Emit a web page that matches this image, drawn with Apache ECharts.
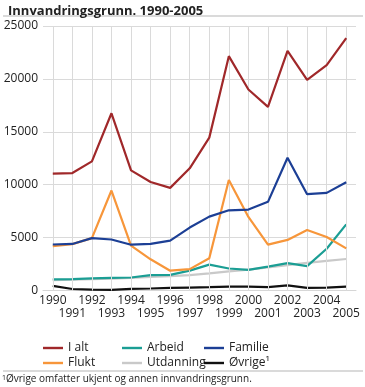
<!DOCTYPE html>
<html><head><meta charset="utf-8">
<script src="https://cdn.jsdelivr.net/npm/echarts@6/dist/echarts.min.js"></script>
<style>html,body{margin:0;padding:0;background:#fff}#c{width:365px;height:387px}</style>
</head><body><div id="c"></div>
<script>
var years = [1990,1991,1992,1993,1994,1995,1996,1997,1998,1999,2000,2001,2002,2003,2004,2005];
var iAlt      = [11050,11100,12200,16750,11350,10250,9700,11550,14450,22150,19000,17350,22650,19900,21300,23850];
var arbeid    = [1050,1080,1150,1200,1230,1450,1480,1880,2450,2080,1950,2250,2580,2300,3950,6250];
var familie   = [4350,4400,4950,4820,4330,4400,4720,5950,6980,7580,7650,8380,12550,9100,9230,10230];
var flukt     = [4180,4380,4950,9450,4250,2950,1870,2020,3050,10450,6950,4330,4780,5720,5050,3980];
var utdanning = [980,1020,1080,1130,1200,1280,1360,1450,1620,1800,1980,2180,2400,2620,2800,2980];
var ovrige    = [430,140,90,60,150,190,250,280,310,370,370,310,480,240,280,370];
var yTicks = [0,5000,10000,15000,20000,25000];
var evenYears = years.filter(function(y){ return y % 2 === 0; });
var oddYears  = years.filter(function(y){ return y % 2 === 1; });
var colors = {'I alt':'#a0282a','Arbeid':'#1b9e94','Familie':'#1c3f95','Flukt':'#f7963a','Utdanning':'#c9c9c9','Øvrige¹':'#111111'};
var FONT = 'Open Sans';

function pairs(arr){ return years.map(function(y,i){ return [y, arr[i]]; }); }
function mk(name, arr, z, extra){
  var s = {name:name, type:'line', data:pairs(arr), symbol:'none', z:z, xAxisIndex:0,
    lineStyle:{width:2.2, color:colors[name]}, itemStyle:{color:colors[name]}};
  if (extra) for (var k in extra) s[k] = extra[k];
  return s;
}
function xAx(vals, margin, showLine){
  return {type:'value', min:1989.5, max:2005.5, position:'bottom',
    axisLine:{show:showLine, onZero:false, lineStyle:{color:'#d6d6d6'}}, axisTick:{show:false}, splitLine:{show:false},
    axisLabel:{customValues:vals, showMinLabel:true, showMaxLabel:true, hideOverlap:false,
      margin:margin, fontFamily:FONT, fontSize:12, color:'#222',
      formatter:function(v){ return String(Math.round(v)); }}};
}
var chart = echarts.init(document.getElementById('c'), null, {renderer:'canvas'});
var legendBase = {orient:'vertical', top:337, itemWidth:20, itemHeight:14, itemGap:3,
  icon:'path://M0,5.8 L20,5.8 L20,8.2 L0,8.2 Z',
  textStyle:{fontFamily:FONT, fontSize:12, color:'#222'}, selectedMode:false};
function lg(left, data){ var o = {}; for (var k in legendBase) o[k]=legendBase[k]; o.left=left; o.data=data; return o; }
chart.setOption({
  animation:false,
  backgroundColor:'#fff',
  title:{text:'Innvandringsgrunn. 1990-2005', left:3, top:0,
    textStyle:{fontFamily:FONT, fontSize:13, fontWeight:'bold', color:'#222'}},
  grid:{left:43, right:9, top:26, bottom:96.5},
  xAxis:[xAx(evenYears, 4, true), xAx(oddYears, 17, false)],
  yAxis:{type:'value', min:0, max:25000, interval:5000,
    axisLine:{show:false}, axisTick:{show:false},
    splitLine:{lineStyle:{color:'#dadada', width:1}},
    axisLabel:{margin:5, fontFamily:FONT, fontSize:12, color:'#222',
      formatter:function(v){ return String(v); }}},
  legend:[lg(38,['I alt','Flukt']), lg(117,['Arbeid','Utdanning']), lg(199,['Familie','Øvrige¹'])],
  series:[
    mk('Utdanning', utdanning, 2, {markLine:{silent:true, symbol:['none','none'], label:{show:false},
      lineStyle:{color:'#dadada', type:'solid', width:1}, emphasis:{disabled:true},
      data:years.map(function(y){ return {xAxis:y}; })}}),
    mk('Øvrige¹', ovrige, 3),
    mk('Arbeid', arbeid, 4),
    mk('Flukt', flukt, 5),
    mk('Familie', familie, 6),
    mk('I alt', iAlt, 7)
  ],
  graphic:[
    {type:'line', shape:{x1:3, y1:16, x2:363, y2:16}, style:{stroke:'#b5b5b5', lineWidth:1}},
    {type:'line', shape:{x1:3, y1:371, x2:363, y2:371}, style:{stroke:'#b5b5b5', lineWidth:1}},
    {type:'text', left:2, top:374, style:{text:'{s|1}Øvrige omfatter ukjent og annen innvandringsgrunn.',
      font:'10px "Open Sans"', fill:'#222',
      rich:{s:{fontSize:7, fontFamily:FONT, verticalAlign:'top', padding:[0,0,4,0], fill:'#222'}}}}
  ]
});
</script></body></html>
